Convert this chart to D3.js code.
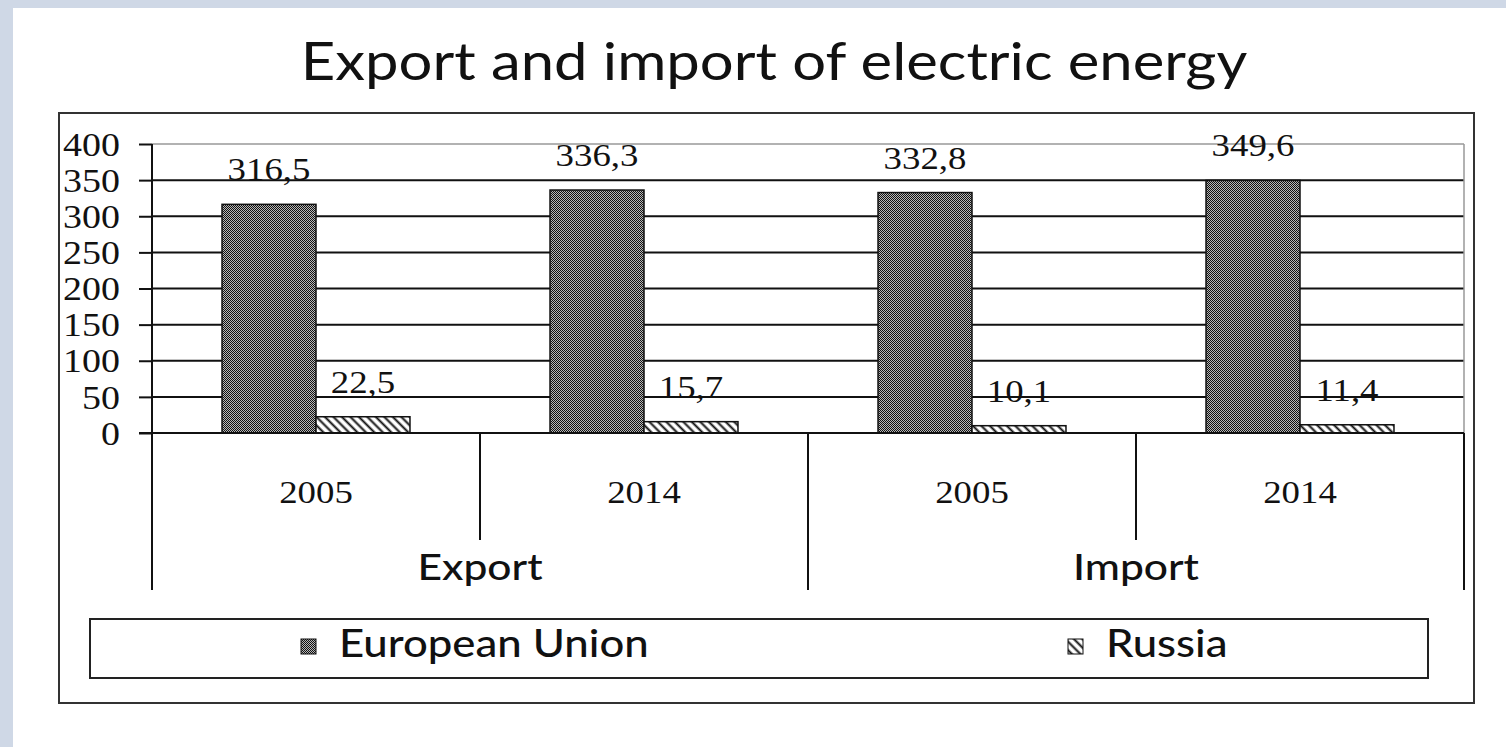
<!DOCTYPE html>
<html>
<head>
<meta charset="utf-8">
<script src="https://cdn.jsdelivr.net/npm/d3@7"></script>
<style>
  html, body { margin: 0; padding: 0; background: #cfd8e6; }
  svg { display: block; }
</style>
</head>
<body>
<svg id="chart" width="1506" height="747"></svg>
<script>
// Electric energy trade, EU vs Russia
const groups = ["Export", "Import"];
const years = ["2005", "2014"];
const seriesNames = ["European Union", "Russia"];
const euValues = [316.5, 336.3, 332.8, 349.6];
const ruValues = [22.5, 15.7, 10.1, 11.4];
const yTicks = [0, 50, 100, 150, 200, 250, 300, 350, 400];
const titleText = "Export and import of electric energy";

const categories = groups.flatMap(g => years.map(y => ({ group: g, year: y, key: g + " " + y })));
const rows = categories.map((c, i) => ({ ...c, values: [euValues[i], ruValues[i]] }));

const W = 1506, H = 747;
const SX = 1.15; // horizontal stretch of the lettering
const svg = d3.select("#chart");

// white panel
svg.append("rect").attr("x", 13).attr("y", 8).attr("width", W - 13).attr("height", H - 8).attr("fill", "#fff");

const defs = svg.append("defs");
// fine checker for the EU bars
const p1 = defs.append("pattern").attr("id", "checker").attr("patternUnits", "userSpaceOnUse")
  .attr("width", 2).attr("height", 2);
p1.append("rect").attr("width", 2).attr("height", 2).attr("fill", "#b8b8b8");
p1.append("rect").attr("width", 1).attr("height", 1).attr("fill", "#111");
p1.append("rect").attr("x", 1).attr("y", 1).attr("width", 1).attr("height", 1).attr("fill", "#111");
// diagonal hatch for the Russia bars
const p2 = defs.append("pattern").attr("id", "hatch").attr("patternUnits", "userSpaceOnUse")
  .attr("width", 6).attr("height", 6).attr("patternTransform", "rotate(-45)");
p2.append("rect").attr("width", 6).attr("height", 6).attr("fill", "#fff");
p2.append("line").attr("x1", 1.5).attr("y1", 0).attr("x2", 1.5).attr("y2", 6)
  .attr("stroke", "#111").attr("stroke-width", 2);
const fills = ["url(#checker)", "url(#hatch)"];

function stretchedText(sel, x, y, txt, opts) {
  return sel.append("text")
    .attr("transform", `translate(${x},${y}) scale(${SX},1)`)
    .attr("text-anchor", opts.anchor || "middle")
    .attr("font-family", opts.family)
    .attr("font-size", opts.size)
    .attr("font-weight", opts.weight || "normal")
    .attr("fill", "#111")
    .text(txt);
}
const SERIF = "'Liberation Serif', 'Times New Roman', serif";
const SANS = "Lato, Carlito, 'Open Sans', sans-serif";

// title
stretchedText(svg, 774, 80, titleText, { family: SANS, size: 52 });

// outer chart frame
svg.append("rect").attr("x", 59).attr("y", 113).attr("width", 1415).attr("height", 590)
  .attr("fill", "none").attr("stroke", "#333").attr("stroke-width", 2);

// scales
const plot = { left: 152, right: 1464, top: 144, bottom: 433 };
const x0 = d3.scaleBand().domain(categories.map(c => c.key)).range([plot.left, plot.right]).padding(0);
const xg = d3.scaleBand().domain(groups).range([plot.left, plot.right]).padding(0);
const x1 = d3.scaleBand().domain(seriesNames).range([0, x0.bandwidth()]).paddingInner(0).paddingOuter(0.745);
const y = d3.scaleLinear().domain([0, 400]).range([plot.bottom, plot.top]);

// gridlines
const g = svg.append("g");
g.selectAll("line.grid").data(yTicks.filter(v => v > 0 && v < 400)).join("line")
  .attr("x1", plot.left).attr("x2", plot.right)
  .attr("y1", d => y(d)).attr("y2", d => y(d))
  .attr("stroke", "#111").attr("stroke-width", 2);
// plot area border (top and right)
g.append("line").attr("x1", plot.left).attr("x2", plot.right).attr("y1", y(400)).attr("y2", y(400))
  .attr("stroke", "#999").attr("stroke-width", 1.5);
g.append("line").attr("x1", plot.right).attr("x2", plot.right).attr("y1", y(400)).attr("y2", y(0))
  .attr("stroke", "#999").attr("stroke-width", 1.5);

// y axis
const yAxis = d3.axisLeft(y).tickValues(yTicks).tickSize(13).tickSizeOuter(0).tickFormat(d3.format("d"));
const ya = svg.append("g").attr("transform", `translate(${plot.left},0)`).call(yAxis);
ya.select(".domain").remove();
ya.selectAll(".tick line").attr("stroke", "#111").attr("stroke-width", 2);
ya.selectAll(".tick text")
  .attr("x", -32 / SX).attr("dy", "0.34em")
  .attr("transform", `scale(${SX},1)`)
  .attr("font-family", SERIF).attr("font-size", 33).attr("fill", "#111");

// bars
const fmt = d3.formatLocale({ decimal: ",", thousands: " ", grouping: [3], currency: ["", ""] }).format(".1f");
const cat = svg.append("g").selectAll("g").data(rows).join("g")
  .attr("transform", d => `translate(${x0(d.key)},0)`);
cat.selectAll("rect").data(d => d.values.map((v, i) => ({ v, i }))).join("rect")
  .attr("x", d => x1(seriesNames[d.i]))
  .attr("width", x1.bandwidth())
  .attr("y", d => y(d.v))
  .attr("height", d => y(0) - y(d.v))
  .attr("fill", d => fills[d.i])
  .attr("stroke", "#111").attr("stroke-width", 1.5);
cat.each(function (d) {
  const sel = d3.select(this);
  d.values.forEach((v, i) => {
    stretchedText(sel, x1(seriesNames[i]) + x1.bandwidth() / 2, y(v) - 24, fmt(v), { family: SERIF, size: 32 });
  });
});

// zero line
svg.append("line").attr("x1", plot.left - 13).attr("x2", plot.right).attr("y1", y(0)).attr("y2", y(0))
  .attr("stroke", "#111").attr("stroke-width", 2);

// category separators: years (short) and groups (long)
const yearSepBottom = 540, groupSepBottom = 590;
const sep = svg.append("g").attr("stroke", "#111").attr("stroke-width", 2);
categories.forEach(c => {
  const xl = x0(c.key);
  const isGroupEdge = years.indexOf(c.year) === 0;
  sep.append("line").attr("x1", xl).attr("x2", xl).attr("y1", y(0))
    .attr("y2", isGroupEdge ? groupSepBottom : yearSepBottom);
});
sep.append("line").attr("x1", plot.right).attr("x2", plot.right).attr("y1", y(0)).attr("y2", groupSepBottom);
sep.append("line").attr("x1", plot.left).attr("x2", plot.left).attr("y1", y(400)).attr("y2", y(0));

// year labels
categories.forEach(c => {
  stretchedText(svg, x0(c.key) + x0.bandwidth() / 2, 503, c.year, { family: SERIF, size: 32 });
});
// group labels
groups.forEach(gn => {
  stretchedText(svg, xg(gn) + xg.bandwidth() / 2, 580, gn, { family: SANS, size: 37, weight: 500 });
});

// legend
svg.append("rect").attr("x", 90).attr("y", 619).attr("width", 1338).attr("height", 59)
  .attr("fill", "none").attr("stroke", "#222").attr("stroke-width", 2);
const legendX = [301, 1068];
seriesNames.forEach((s, i) => {
  svg.append("rect").attr("x", legendX[i]).attr("y", 639).attr("width", 15).attr("height", 15)
    .attr("fill", fills[i]).attr("stroke", "#111").attr("stroke-width", 1);
  stretchedText(svg, legendX[i] + 38, 657, s, { family: SANS, size: 38, weight: 500, anchor: "start" });
});
</script>
</body>
</html>
